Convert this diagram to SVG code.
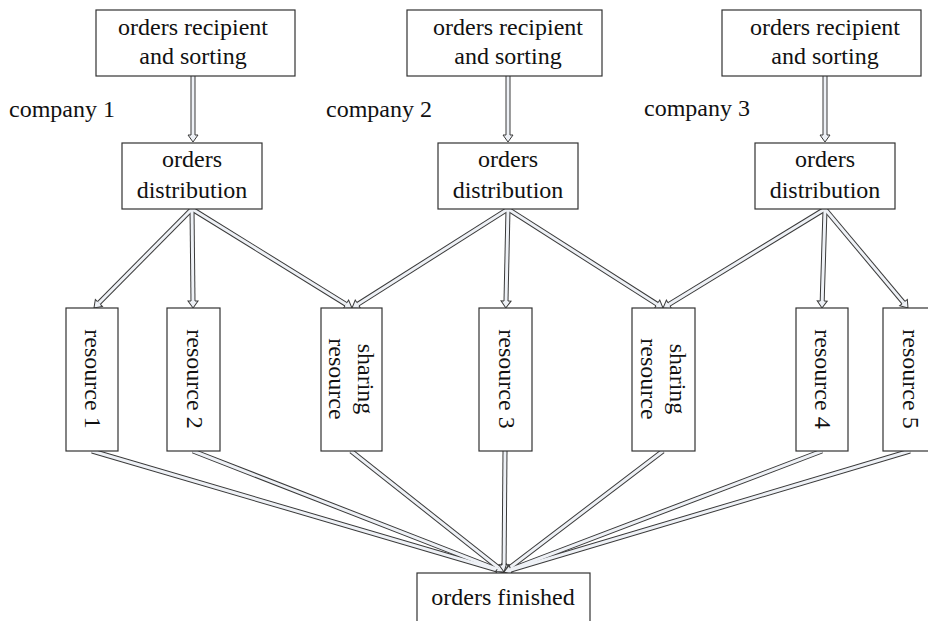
<svg xmlns="http://www.w3.org/2000/svg" width="928" height="621" viewBox="0 0 928 621">
<style>
.box{fill:#fff;stroke:#333;stroke-width:1.2}
.t{font-family:"Liberation Serif","Times New Roman",serif;font-size:24px;fill:#111;text-anchor:middle}
.tl{font-family:"Liberation Serif","Times New Roman",serif;font-size:24px;fill:#111}
.out{fill:none;stroke:#3a3a3a;stroke-width:5;stroke-linecap:butt}
.in{fill:none;stroke:#eef1f6;stroke-width:3;stroke-linecap:butt;marker-end:url(#ah)}
</style>
<defs>
<marker id="ah" markerUnits="userSpaceOnUse" markerWidth="12" markerHeight="12" refX="0" refY="6" orient="auto" viewBox="0 0 12 12" overflow="visible">
<polygon points="0,1 7,6 0,11" fill="#eef1f6"/>
<path d="M0,4 L0,1 L7,6 L0,11 L0,8" fill="none" stroke="#3a3a3a" stroke-width="1"/>
</marker>
</defs>
<rect width="928" height="621" fill="#fff"/>

<g id="connectors">
<g>
<path class="out" d="M193,76 L193,135"/>
<path class="out" d="M508,76 L508,135"/>
<path class="out" d="M825,76 L825,135"/>
<path class="out" d="M192,209 L98.9,303"/>
<path class="out" d="M192,209 L193,301"/>
<path class="out" d="M192,209 L346,304.3"/>
<path class="out" d="M508,209 L357.9,304.2"/>
<path class="out" d="M508,209 L506,301"/>
<path class="out" d="M508,209 L657.1,304.2"/>
<path class="out" d="M825,209 L669,304.4"/>
<path class="out" d="M825,209 L822.2,301"/>
<path class="out" d="M825,209 L903.5,302.6"/>
<path class="out" d="M92,451 L497.3,570"/>
<path class="out" d="M193,451 L497.5,569.5"/>
<path class="out" d="M351,451 L498.5,567.7"/>
<path class="out" d="M505,451 L504.06,565"/>
<path class="out" d="M663,451 L509.6,567.8"/>
<path class="out" d="M822,451 L510.5,569.5"/>
<path class="out" d="M910,451 L510.7,570"/>
</g>
<g>
<path class="in" d="M193,76 L193,135"/>
<path class="in" d="M508,76 L508,135"/>
<path class="in" d="M825,76 L825,135"/>
<path class="in" d="M192,209 L98.9,303"/>
<path class="in" d="M192,209 L193,301"/>
<path class="in" d="M192,209 L346,304.3"/>
<path class="in" d="M508,209 L357.9,304.2"/>
<path class="in" d="M508,209 L506,301"/>
<path class="in" d="M508,209 L657.1,304.2"/>
<path class="in" d="M825,209 L669,304.4"/>
<path class="in" d="M825,209 L822.2,301"/>
<path class="in" d="M825,209 L903.5,302.6"/>
<path class="in" d="M92,451 L497.3,570"/>
<path class="in" d="M193,451 L497.5,569.5"/>
<path class="in" d="M351,451 L498.5,567.7"/>
<path class="in" d="M505,451 L504.06,565"/>
<path class="in" d="M663,451 L509.6,567.8"/>
<path class="in" d="M822,451 L510.5,569.5"/>
<path class="in" d="M910,451 L510.7,570"/>
</g>
</g>

<g id="recv1"><rect class="box" x="96" y="10" width="199" height="66"/><text class="t" x="193" y="35">orders recipient</text><text class="t" x="193" y="64">and sorting</text></g>
<g id="recv2"><rect class="box" x="407" y="10" width="195" height="66"/><text class="t" x="508" y="35">orders recipient</text><text class="t" x="508" y="64">and sorting</text></g>
<g id="recv3"><rect class="box" x="722" y="10" width="199" height="66"/><text class="t" x="825" y="35">orders recipient</text><text class="t" x="825" y="64">and sorting</text></g>

<g id="company1"><text class="tl" x="9" y="117">company 1</text></g>
<g id="company2"><text class="tl" x="326" y="117">company 2</text></g>
<g id="company3"><text class="tl" x="644" y="116">company 3</text></g>

<g id="dist1"><rect class="box" x="122" y="143" width="140" height="66"/><text class="t" x="192" y="167">orders</text><text class="t" x="192" y="198">distribution</text></g>
<g id="dist2"><rect class="box" x="438" y="143" width="140" height="66"/><text class="t" x="508" y="167">orders</text><text class="t" x="508" y="198">distribution</text></g>
<g id="dist3"><rect class="box" x="755" y="143" width="140" height="66"/><text class="t" x="825" y="167">orders</text><text class="t" x="825" y="198">distribution</text></g>

<g id="res1"><rect class="box" x="66" y="308" width="52" height="143"/><text class="t" transform="translate(92,379) rotate(90)" y="7">resource 1</text></g>
<g id="res2"><rect class="box" x="167" y="308" width="53" height="143"/><text class="t" transform="translate(193.5,379) rotate(90)" y="7">resource 2</text></g>
<g id="share1"><rect class="box" x="321" y="308" width="61" height="143"/><text class="t" transform="translate(351.5,379) rotate(90)"><tspan x="0" y="-6">sharing</tspan><tspan x="0" y="23">resource</tspan></text></g>
<g id="res3"><rect class="box" x="479" y="308" width="53" height="143"/><text class="t" transform="translate(505.5,379) rotate(90)" y="7">resource 3</text></g>
<g id="share2"><rect class="box" x="632" y="308" width="63" height="143"/><text class="t" transform="translate(663.5,379) rotate(90)"><tspan x="0" y="-6">sharing</tspan><tspan x="0" y="23">resource</tspan></text></g>
<g id="res4"><rect class="box" x="796" y="308" width="52" height="143"/><text class="t" transform="translate(822,379) rotate(90)" y="7">resource 4</text></g>
<g id="res5"><rect class="box" x="883" y="308" width="55" height="143"/><text class="t" transform="translate(910,379) rotate(90)" y="7">resource 5</text></g>

<g id="finished"><rect class="box" x="417" y="573" width="173" height="60"/><text class="t" x="503" y="605">orders finished</text></g>
</svg>
